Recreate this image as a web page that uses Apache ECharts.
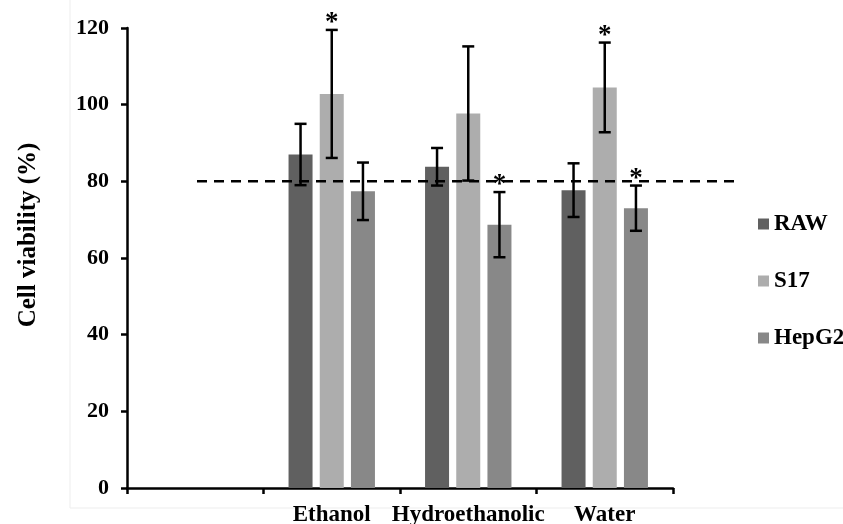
<!DOCTYPE html>
<html>
<head>
<meta charset="utf-8">
<script src="https://cdn.jsdelivr.net/npm/echarts@6/dist/echarts.min.js"></script>
<style>
html,body{margin:0;padding:0;background:#fff;}
#chart{width:843px;height:524px;}
</style>
</head>
<body>
<div id="chart"></div>
<script>
// ---- data ----
var categories = ['', 'Ethanol', 'Hydroethanolic', 'Water'];
var seriesNames = ['RAW', 'S17', 'HepG2'];
var rawMean   = [null, 87.0, 83.8, 77.7];
var rawSD     = [null, 8.0, 4.9, 7.0];
var s17Mean   = [null, 102.8, 97.7, 104.5];
var s17SD     = [null, 16.7, 17.5, 11.7];
var hepMean   = [null, 77.4, 68.7, 73.0];
var hepSD     = [null, 7.5, 8.5, 5.9];
var rawStar   = [0, 0, 0, 0];
var s17Star   = [0, 1, 0, 1];
var hepStar   = [0, 0, 1, 1];
var threshold = 80;
var yTicks = {min: 0, max: 120, interval: 20};

// ---- style ----
var FONT = "'Liberation Serif','Times New Roman',serif";
var colors = ['#606060', '#adadad', '#888888'];
var BAR_W = 24, BAR_GAP = 0.3;

var means = [rawMean, s17Mean, hepMean];
var sds = [rawSD, s17SD, hepSD];
var stars = [rawStar, s17Star, hepStar];

function errData(k) {
  var out = [];
  for (var i = 0; i < categories.length; i++) {
    if (means[k][i] == null) continue;
    out.push([i, means[k][i], sds[k][i], stars[k][i]]);
  }
  return out;
}

function makeRender(k) {
  return function (params, api) {
    var cat = api.value(0), m = api.value(1), sd = api.value(2), st = api.value(3);
    var off = (k - 1) * BAR_W * (1 + BAR_GAP);
    var top = api.coord([cat, m + sd]);
    var bot = api.coord([cat, m - sd]);
    var x = top[0] + off;
    var cap = 6;
    var st_ = {stroke: '#000', lineWidth: 2.5};
    var children = [
      {type: 'line', shape: {x1: x, y1: top[1], x2: x, y2: bot[1]}, style: st_},
      {type: 'line', shape: {x1: x - cap, y1: top[1], x2: x + cap, y2: top[1]}, style: st_},
      {type: 'line', shape: {x1: x - cap, y1: bot[1], x2: x + cap, y2: bot[1]}, style: st_}
    ];
    if (st) {
      children.push({type: 'text', x: x, y: top[1] - 7,
        style: {text: '*', fill: '#000', font: 'bold 27px ' + FONT, align: 'center', verticalAlign: 'middle'}});
    }
    return {type: 'group', children: children};
  };
}

var series = [];
for (var k = 0; k < 3; k++) {
  series.push({
    name: seriesNames[k], type: 'bar', xAxisIndex: 0, yAxisIndex: 0,
    data: means[k], barWidth: BAR_W, barGap: (BAR_GAP * 100) + '%',
    itemStyle: {color: colors[k]}, z: 2
  });
}
for (var k = 0; k < 3; k++) {
  series.push({
    type: 'custom', xAxisIndex: 0, yAxisIndex: 0,
    data: errData(k), renderItem: makeRender(k), z: 5, silent: true
  });
}
series.push({
  type: 'line', xAxisIndex: 1, yAxisIndex: 1,
  data: [[0, threshold], [1, threshold]], symbol: 'none', silent: true,
  lineStyle: {color: '#000', width: 2.5, type: [10, 7]}, z: 4
});

var chart = echarts.init(document.getElementById('chart'));
chart.setOption({
  animation: false,
  backgroundColor: '#fff',
  graphic: [{type: 'rect', shape: {x: 70, y: -10, width: 800, height: 518},
    style: {fill: 'none', stroke: '#ededed', lineWidth: 1}, z: -1}],
  grid: [
    {left: 127, right: 170, top: 28, bottom: 36, containLabel: false, outerBoundsMode: 'none'},
    {left: 197, right: 103, top: 28, bottom: 36, containLabel: false, outerBoundsMode: 'none'}
  ],
  legend: {
    data: seriesNames, orient: 'vertical', left: 753, top: 207,
    icon: 'rect', itemWidth: 11, itemHeight: 11, itemGap: 33,
    textStyle: {fontFamily: FONT, fontWeight: 'bold', fontSize: 23, color: '#000', lineHeight: 24}
  },
  xAxis: [
    {type: 'category', gridIndex: 0, data: categories, boundaryGap: true,
     axisLine: {lineStyle: {color: '#000', width: 2.5}},
     axisTick: {show: true, interval: 0, length: 6, lineStyle: {color: '#000', width: 2.5}},
     axisLabel: {interval: 0, fontFamily: FONT, fontWeight: 'bold', fontSize: 23, color: '#000', margin: 16},
     splitLine: {show: false}},
    {type: 'value', gridIndex: 1, min: 0, max: 1, show: false}
  ],
  yAxis: [
    {type: 'value', gridIndex: 0, min: yTicks.min, max: yTicks.max, interval: yTicks.interval,
     name: 'Cell viability (%)', nameLocation: 'middle', nameRotate: 90, nameGap: 86,
     nameTextStyle: {fontFamily: FONT, fontWeight: 'bold', fontSize: 25, color: '#000', padding: [0, 0, 0, 46]},
     axisLine: {show: true, lineStyle: {color: '#000', width: 2.5}},
     axisTick: {show: true, length: 6, lineStyle: {color: '#000', width: 2.5}},
     axisLabel: {fontFamily: FONT, fontWeight: 'bold', fontSize: 22, color: '#000', margin: 18},
     splitLine: {show: false}},
    {type: 'value', gridIndex: 1, min: yTicks.min, max: yTicks.max, show: false}
  ],
  series: series
});
</script>
</body>
</html>
